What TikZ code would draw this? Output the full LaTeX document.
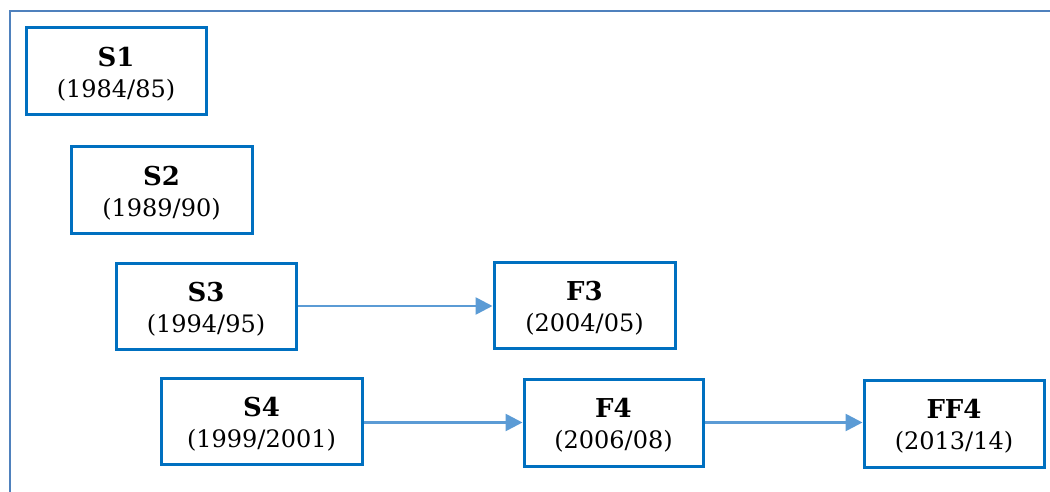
\documentclass[tikz,border=0pt]{standalone}
\usepackage{fontspec}
\setmainfont{DejaVu Serif}
\usetikzlibrary{arrows.meta}
\definecolor{framec}{HTML}{4F81BD}
\definecolor{boxc}{HTML}{0070C0}
\definecolor{arrc}{HTML}{5B9BD5}
\tikzset{
  stagebox/.style={draw=boxc, line width=3pt, fill=white, align=center,
    inner sep=0pt, font=\fontsize{24}{31}\selectfont},
  flow/.style={draw=arrc, line width=2.6pt, -{Triangle[length=17pt,width=17pt]}}
}
\newcommand{\stg}[2]{\rule{0pt}{25pt}{\fontsize{26}{31}\selectfont\textbf{#1}}\\#2}
\begin{document}
\begin{tikzpicture}[x=1pt,y=-1pt]
\useasboundingbox (0,0) rectangle (1050,492);
\draw[framec, line width=2.6pt] (10,500) -- (10,11) -- (1060,11);
\node[stagebox, minimum width=180pt, minimum height=87pt] (S1) at (116,71.5) {\stg{S1}{(1984/85)}};
\node[stagebox, minimum width=181pt, minimum height=86pt] (S2) at (161.5,190) {\stg{S2}{(1989/90)}};
\node[stagebox, minimum width=180pt, minimum height=86pt] (S3) at (206,306) {\stg{S3}{(1994/95)}};
\node[stagebox, minimum width=181pt, minimum height=86pt] (F3) at (584.5,305) {\stg{F3}{(2004/05)}};
\node[stagebox, minimum width=201pt, minimum height=86pt] (S4) at (261.5,421) {\stg{S4}{(1999/2001)}};
\node[stagebox, minimum width=179pt, minimum height=87pt] (F4) at (613.5,422.5) {\stg{F4}{(2006/08)}};
\node[stagebox, minimum width=180pt, minimum height=87pt] (FF4) at (954,423.5) {\stg{FF4}{(2013/14)}};
\draw[flow] (S3.east) -- (S3.east -| F3.west);
\draw[flow] (S4.east |- F4.east) -- (F4.west);
\draw[flow] (F4.east) -- (FF4.west |- F4.east);
\end{tikzpicture}
\end{document}
